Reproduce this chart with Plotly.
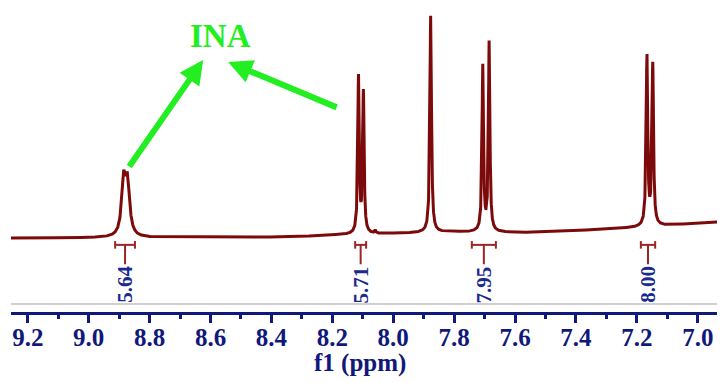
import numpy as np
import plotly.graph_objects as go

# ---- data ----
peak_ppm = [8.885, 8.872, 8.114, 8.098, 8.059, 7.877, 7.706, 7.685, 7.167, 7.148]
peak_height = [0.239, 0.221, 0.70, 0.63, 0.014, 0.975, 0.74, 0.85, 0.76, 0.72]
peak_hwhm = [0.008, 0.008, 0.0028, 0.0028, 0.002, 0.003, 0.0028, 0.0028, 0.003, 0.003]

baseline_ppm = [9.26, 8.34, 8.20, 7.81, 7.52, 7.22, 6.93]
baseline_val = [0.0, 0.004, 0.013, 0.027, 0.024, 0.045, 0.072]

int_start = [8.913, 8.125, 7.742, 7.187]
int_end = [8.848, 8.089, 7.663, 7.140]
int_labels = ["5.64", "5.71", "7.95", "8.00"]

tick_vals = [9.2, 9.0, 8.8, 8.6, 8.4, 8.2, 8.0, 7.8, 7.6, 7.4, 7.2, 7.0]
tick_text = ["9.2", "9.0", "8.8", "8.6", "8.4", "8.2", "8.0", "7.8", "7.6", "7.4", "7.2", "7.0"]
x_title = "f1 (ppm)"

# ---- spectrum ----
ppm = np.arange(6.93, 9.26, 0.0004)
bl = np.interp(ppm, baseline_ppm[::-1], baseline_val[::-1])
spec = bl.copy()
for p, h, g in zip(peak_ppm, peak_height, peak_hwhm):
    spec += h * g**2 / ((ppm - p) ** 2 + g**2)

NAVY = "#10197a"
MAROON = "#7d0a0a"
BRACKET = "#9a2626"
GREEN = "#22ee22"
SERIF = "Liberation Serif, Times New Roman, serif"

fig = go.Figure()
fig.add_trace(go.Scatter(x=ppm, y=spec, mode="lines",
                         line=dict(color=MAROON, width=3), hoverinfo="skip"))

# integration brackets
bv, cap, conn = -0.031, 0.017, -0.118
bx, by = [], []
for s, e in zip(int_start, int_end):
    c = (s + e) / 2
    bx += [s, e, None, s, s, None, e, e, None, c, c, None]
    by += [bv, bv, None, bv - cap, bv + cap, None, bv - cap, bv + cap, None, bv, conn, None]
fig.add_trace(go.Scatter(x=bx, y=by, mode="lines",
                         line=dict(color=BRACKET, width=2), hoverinfo="skip"))

annotations = []
for s, e, lab in zip(int_start, int_end, int_labels):
    annotations.append(dict(x=(s + e) / 2, y=conn, xref="x", yref="y", text="<b>" + lab + "</b>",
                            showarrow=False, textangle=-90, xanchor="center", yanchor="top",
                            font=dict(family=SERIF, size=21, color="#1b2a8f")))

# INA label and arrows
annotations.append(dict(x=8.568, y=0.906, xref="x", yref="y", text="<b>INA</b>", showarrow=False,
                        font=dict(family=SERIF, size=33, color=GREEN)))
annotations.append(dict(x=8.624, y=0.798, xref="x", yref="y", text="", showarrow=True,
                        ax=-75, ay=108, arrowcolor=GREEN, arrowwidth=6, arrowhead=2, arrowsize=0.8))
annotations.append(dict(x=8.542, y=0.789, xref="x", yref="y", text="", showarrow=True,
                        ax=110, ay=46, arrowcolor=GREEN, arrowwidth=6, arrowhead=2, arrowsize=0.8))

# axis title
annotations.append(dict(x=0.494, y=-0.165, xref="paper", yref="paper", text="<b>" + x_title + "</b>",
                        showarrow=False, xanchor="center", yanchor="middle",
                        font=dict(family=SERIF, size=25, color=NAVY)))

fig.update_layout(
    width=721, height=383,
    margin=dict(l=11, r=4, t=0, b=71),
    paper_bgcolor="white", plot_bgcolor="white",
    showlegend=False,
    annotations=annotations,
    shapes=[dict(type="line", xref="paper", yref="paper", x0=0, x1=1, y0=0.026, y1=0.026,
                 line=dict(color="#cfcfcf", width=2))],
    xaxis=dict(range=[9.255, 6.937], tickvals=tick_vals,
               ticktext=["<b>" + t + "</b>" for t in tick_text],
               showgrid=False, zeroline=False, showline=True, linecolor=NAVY, linewidth=3,
               ticks="outside", ticklen=8, tickwidth=2.5, tickcolor=NAVY,
               minor=dict(dtick=0.1, ticks="outside", ticklen=4, tickwidth=2.5, tickcolor=NAVY,
                          showgrid=False),
               ticklabelstandoff=-7,
               tickfont=dict(family=SERIF, size=25, color=NAVY)),
    yaxis=dict(range=[-0.332, 1.067], visible=False, showgrid=False, zeroline=False),
)

fig.write_html("out.html", config={"displayModeBar": False},
               post_script="document.body.style.margin='0';document.body.style.overflow='hidden';")
